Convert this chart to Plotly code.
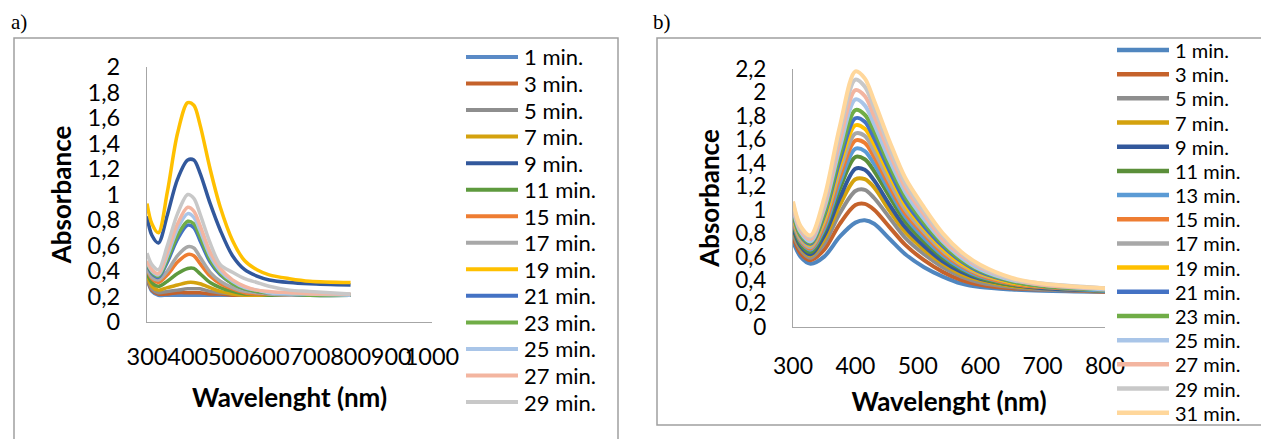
import plotly.graph_objects as go

W, H = 1261, 439

# ---------------- data ----------------
wavelength = [300, 312, 328, 350, 375, 400, 415, 430, 455, 480, 510, 540, 570, 600, 650, 700, 800]

# panel a)
a_labels = ["1 min.", "3 min.", "5 min.", "7 min.", "9 min.", "11 min.", "15 min.",
            "17 min.", "19 min.", "21 min.", "23 min.", "25 min.", "27 min.", "29 min."]
a_01 = [0.34, 0.24, 0.21, 0.21, 0.21, 0.21, 0.21, 0.21, 0.21, 0.21, 0.21, 0.21, 0.21, 0.21, 0.21, 0.21, 0.21]
a_03 = [0.35, 0.25, 0.22, 0.22, 0.23, 0.23, 0.23, 0.23, 0.22, 0.22, 0.21, 0.21, 0.21, 0.21, 0.21, 0.21, 0.21]
a_05 = [0.36, 0.26, 0.23, 0.24, 0.25, 0.26, 0.26, 0.26, 0.24, 0.23, 0.22, 0.21, 0.21, 0.21, 0.21, 0.21, 0.21]
a_07 = [0.37, 0.28, 0.25, 0.27, 0.29, 0.31, 0.31, 0.30, 0.27, 0.24, 0.22, 0.21, 0.21, 0.21, 0.21, 0.21, 0.21]
a_09 = [0.83, 0.68, 0.62, 0.84, 1.12, 1.27, 1.27, 1.17, 0.93, 0.72, 0.52, 0.41, 0.36, 0.33, 0.31, 0.30, 0.29]
a_11 = [0.39, 0.31, 0.28, 0.32, 0.38, 0.42, 0.42, 0.38, 0.31, 0.27, 0.24, 0.22, 0.22, 0.21, 0.21, 0.21, 0.21]
a_15 = [0.41, 0.34, 0.31, 0.37, 0.47, 0.53, 0.52, 0.46, 0.36, 0.30, 0.26, 0.23, 0.22, 0.22, 0.21, 0.21, 0.21]
a_17 = [0.42, 0.35, 0.33, 0.40, 0.52, 0.59, 0.58, 0.51, 0.39, 0.32, 0.27, 0.24, 0.23, 0.22, 0.21, 0.21, 0.21]
a_19 = [0.93, 0.77, 0.70, 1.02, 1.48, 1.72, 1.70, 1.55, 1.20, 0.90, 0.64, 0.48, 0.41, 0.37, 0.34, 0.32, 0.31]
a_21 = [0.45, 0.38, 0.35, 0.47, 0.65, 0.76, 0.74, 0.64, 0.47, 0.37, 0.30, 0.26, 0.24, 0.23, 0.22, 0.21, 0.21]
a_23 = [0.46, 0.39, 0.36, 0.49, 0.68, 0.79, 0.77, 0.67, 0.49, 0.38, 0.30, 0.26, 0.24, 0.23, 0.22, 0.21, 0.21]
a_25 = [0.47, 0.40, 0.37, 0.52, 0.73, 0.85, 0.82, 0.72, 0.52, 0.40, 0.32, 0.27, 0.25, 0.23, 0.22, 0.22, 0.21]
a_27 = [0.48, 0.41, 0.38, 0.55, 0.77, 0.90, 0.87, 0.76, 0.55, 0.42, 0.33, 0.28, 0.25, 0.24, 0.23, 0.22, 0.22]
a_29 = [0.54, 0.45, 0.41, 0.60, 0.85, 1.00, 0.97, 0.85, 0.62, 0.45, 0.39, 0.34, 0.31, 0.28, 0.25, 0.24, 0.22]
a_series = [a_01, a_03, a_05, a_07, a_09, a_11, a_15, a_17, a_19, a_21, a_23, a_25, a_27, a_29]
a_colors = ["#5A8AC6", "#C5622B", "#8E8E8E", "#D4A20E", "#32589C", "#5E9A3E", "#EE7D32",
            "#A8A8A8", "#FFC000", "#4472C4", "#70AD47", "#A9C5E8", "#F3B5A0", "#C8C8C8"]

# panel b)
b_labels = ["1 min.", "3 min.", "5 min.", "7 min.", "9 min.", "11 min.", "13 min.", "15 min.",
            "17 min.", "19 min.", "21 min.", "23 min.", "25 min.", "27 min.", "29 min.", "31 min."]
b_01 = [0.73, 0.60, 0.54, 0.60, 0.77, 0.89, 0.91, 0.88, 0.75, 0.62, 0.51, 0.43, 0.37, 0.34, 0.32, 0.31, 0.30]
b_03 = [0.77, 0.63, 0.57, 0.66, 0.88, 1.04, 1.05, 1.00, 0.85, 0.70, 0.57, 0.47, 0.40, 0.36, 0.33, 0.32, 0.30]
b_05 = [0.80, 0.66, 0.59, 0.71, 0.97, 1.16, 1.17, 1.10, 0.93, 0.76, 0.62, 0.51, 0.43, 0.38, 0.34, 0.32, 0.31]
b_07 = [0.83, 0.68, 0.61, 0.75, 1.04, 1.26, 1.26, 1.19, 0.99, 0.81, 0.66, 0.54, 0.45, 0.40, 0.35, 0.33, 0.31]
b_09 = [0.85, 0.69, 0.62, 0.78, 1.10, 1.35, 1.34, 1.25, 1.04, 0.85, 0.69, 0.56, 0.47, 0.41, 0.36, 0.33, 0.31]
b_11 = [0.88, 0.71, 0.64, 0.82, 1.18, 1.45, 1.43, 1.33, 1.11, 0.90, 0.73, 0.59, 0.49, 0.42, 0.36, 0.34, 0.31]
b_13 = [0.90, 0.73, 0.66, 0.84, 1.23, 1.52, 1.50, 1.39, 1.16, 0.94, 0.76, 0.61, 0.50, 0.43, 0.37, 0.34, 0.31]
b_15 = [0.91, 0.74, 0.67, 0.87, 1.28, 1.59, 1.57, 1.45, 1.20, 0.97, 0.79, 0.63, 0.52, 0.44, 0.37, 0.34, 0.32]
b_17 = [0.93, 0.75, 0.68, 0.90, 1.33, 1.65, 1.63, 1.50, 1.24, 1.00, 0.81, 0.65, 0.53, 0.45, 0.38, 0.35, 0.32]
b_19 = [0.95, 0.77, 0.70, 0.92, 1.38, 1.72, 1.69, 1.56, 1.29, 1.04, 0.84, 0.67, 0.54, 0.46, 0.38, 0.35, 0.32]
b_21 = [0.97, 0.78, 0.71, 0.95, 1.42, 1.78, 1.75, 1.61, 1.33, 1.07, 0.86, 0.69, 0.56, 0.47, 0.39, 0.35, 0.32]
b_23 = [0.98, 0.79, 0.72, 0.97, 1.47, 1.85, 1.81, 1.67, 1.37, 1.11, 0.89, 0.71, 0.57, 0.48, 0.39, 0.35, 0.32]
b_25 = [1.01, 0.81, 0.73, 1.01, 1.53, 1.94, 1.89, 1.73, 1.42, 1.15, 0.92, 0.73, 0.59, 0.49, 0.40, 0.36, 0.32]
b_27 = [1.03, 0.83, 0.75, 1.04, 1.59, 2.02, 1.97, 1.80, 1.48, 1.19, 0.96, 0.75, 0.61, 0.51, 0.41, 0.36, 0.33]
b_29 = [1.05, 0.85, 0.77, 1.07, 1.66, 2.11, 2.05, 1.87, 1.53, 1.23, 0.99, 0.78, 0.63, 0.52, 0.41, 0.37, 0.33]
b_31 = [1.07, 0.86, 0.78, 1.10, 1.71, 2.18, 2.12, 1.93, 1.58, 1.27, 1.02, 0.80, 0.64, 0.53, 0.42, 0.37, 0.33]
b_series = [b_01, b_03, b_05, b_07, b_09, b_11, b_13, b_15, b_17, b_19, b_21, b_23, b_25, b_27, b_29, b_31]
b_colors = ["#5086BF", "#C5622B", "#8E8E8E", "#D4A20E", "#32589C", "#5B8F3A", "#5B9BD5", "#EE7D32",
            "#A8A8A8", "#FFC000", "#4472C4", "#70AD47", "#A9C5E8", "#F3B5A0", "#C8C8C8", "#FFD79B"]

a_xticks = [300, 400, 500, 600, 700, 800, 900, 1000]
b_xticks = [300, 400, 500, 600, 700, 800]

# ---------------- figure ----------------
FONT = "Lato"
fig = go.Figure()

for name, vals, col in zip(a_labels, a_series, a_colors):
    fig.add_trace(go.Scatter(x=wavelength, y=vals, name=name, mode="lines", showlegend=False,
                             line=dict(color=col, width=3.5, shape="spline", smoothing=0.9),
                             xaxis="x", yaxis="y"))

for name, vals, col in zip(b_labels, b_series, b_colors):
    fig.add_trace(go.Scatter(x=wavelength, y=vals, name=name, mode="lines", showlegend=False,
                             line=dict(color=col, width=4, shape="spline", smoothing=0.9),
                             xaxis="x2", yaxis="y2"))


def px(v):
    return v / W


def py(v):
    return 1 - v / H


axis_common = dict(showgrid=False, zeroline=False, showline=True, linecolor="#A6A6A6",
                   linewidth=1.3, ticks="", tickangle=0, automargin=False)
title_font = dict(family=FONT, size=26, color="#000")

shapes = [
    dict(type="rect", xref="paper", yref="paper", x0=px(14), x1=px(618), y0=py(38), y1=-0.1,
         line=dict(color="#A0A0A0", width=1.5), fillcolor="rgba(0,0,0,0)", layer="below"),
    dict(type="rect", xref="paper", yref="paper", x0=px(657), x1=1.05, y0=py(38), y1=py(425),
         line=dict(color="#A0A0A0", width=1.5), fillcolor="rgba(0,0,0,0)", layer="below"),
]
annotations = [
    dict(text="a)", xref="paper", yref="paper", x=px(9), y=py(22), xanchor="left", yanchor="middle",
         showarrow=False, font=dict(family="Liberation Serif", size=21, color="#000")),
    dict(text="b)", xref="paper", yref="paper", x=px(651), y=py(22), xanchor="left", yanchor="middle",
         showarrow=False, font=dict(family="Liberation Serif", size=21, color="#000")),
]


# legends (drawn as line samples + text, Excel style)
def add_legend(labels, colors, x_line0, x_line1, x_text, y_first, step, fsize, lw):
    for i, (lab, col) in enumerate(zip(labels, colors)):
        yy = y_first + i * step
        shapes.append(dict(type="line", xref="paper", yref="paper",
                           x0=px(x_line0), x1=px(x_line1), y0=py(yy), y1=py(yy),
                           line=dict(color=col, width=lw)))
        annotations.append(dict(text=lab, xref="paper", yref="paper", x=px(x_text), y=py(yy),
                                xanchor="left", yanchor="middle", showarrow=False,
                                font=dict(family=FONT, size=fsize, color="#000")))


add_legend(a_labels, a_colors, 466, 518, 522, 57, 26.54, 22, 4)
add_legend(b_labels, b_colors, 1117, 1169, 1173, 50, 24.18, 20, 4.5)

fig.update_layout(
    width=W, height=H,
    margin=dict(l=0, r=0, t=0, b=0, pad=0),
    paper_bgcolor="white", plot_bgcolor="white",
    separators=",.",
    showlegend=False,
    xaxis=dict(domain=[px(147), px(432)], anchor="y", range=[300, 1000],
               tickvals=a_xticks, ticklabelstandoff=14,
               tickfont=dict(family=FONT, size=23.5, color="#000"),
               title=dict(text="<b>Wavelenght (nm)</b>", font=title_font, standoff=19),
               **axis_common),
    yaxis=dict(domain=[py(322), py(67)], anchor="x", range=[0, 2], dtick=0.2,
               ticklabelstandoff=21,
               tickfont=dict(family=FONT, size=23.5, color="#000"),
               title=dict(text="<b>Absorbance</b>", font=title_font, standoff=8),
               **axis_common),
    xaxis2=dict(domain=[px(793), px(1105)], anchor="y2", range=[300, 800],
                tickvals=b_xticks, ticklabelstandoff=18,
                tickfont=dict(family=FONT, size=23, color="#000"),
                title=dict(text="<b>Wavelenght (nm)</b>", font=title_font, standoff=15),
                **axis_common),
    yaxis2=dict(domain=[py(327), py(69)], anchor="x2", range=[0, 2.2], dtick=0.2,
                ticklabelstandoff=21,
                tickfont=dict(family=FONT, size=22.5, color="#000"),
                title=dict(text="<b>Absorbance</b>", font=title_font, standoff=8),
                **axis_common),
    shapes=shapes,
    annotations=annotations,
)

fig.write_html("out.html")
